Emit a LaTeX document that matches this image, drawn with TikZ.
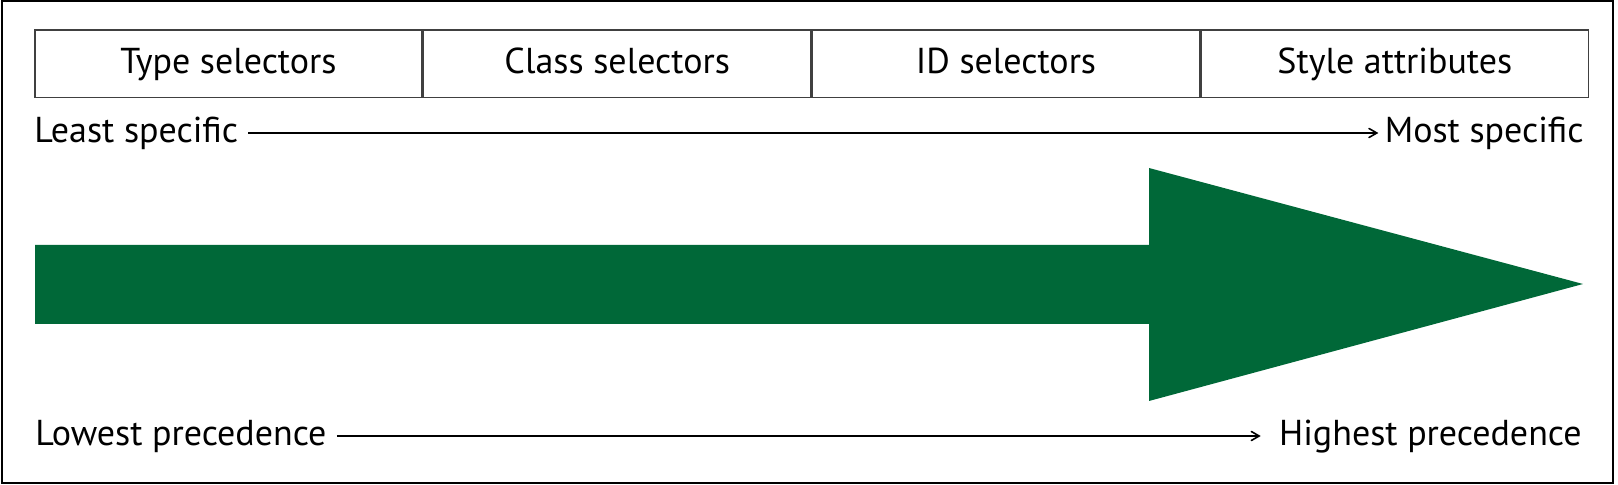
\documentclass[tikz,border=0pt]{standalone}
\usepackage{fontspec}
\setmainfont{PT Sans}
\usetikzlibrary{arrows, positioning}
\definecolor{precgreen}{RGB}{0,104,56}

\begin{document}
\begin{tikzpicture}[x=0.5pt, y=-0.5pt]
		\tikzstyle{SelectorName} = [rectangle, minimum width=193.6pt, minimum height=33.9pt, text centered, text height=12.8pt, text depth=3pt, draw=black!75, line width=0.8pt, inner sep=0pt, font=\fontsize{18}{21}\selectfont]
		\tikzstyle{LabelName} = [inner sep=0pt, text height=10pt, text depth=0pt, font=\fontsize{18}{21}\selectfont]
		\tikzstyle{arrow} = [line width=0.8pt,->,>=angle 60, shorten <=5pt]
		\tikzstyle{BigArrow} = [fill=precgreen]
		
		% frame
		\useasboundingbox (0,0) rectangle (1618,485);
		\draw[line width=1pt] (1.5,1.5) rectangle (1613,483.5);
		
		\node (typeSel) [SelectorName, anchor=north west] at (34,29) {Type selectors};
		\node (classSel) [SelectorName, right = 0 mm of typeSel] {Class selectors};
		\node (idSel) [SelectorName, right = 0 mm of classSel] {ID selectors};
		\node (styleAttr) [SelectorName, right = 0 mm of idSel] {Style attributes};
		
		\node (leastSpec) [LabelName, anchor=base west] at (34,143) {Least specific};
		\node (mostSpec) [LabelName, anchor=base east] at (1584,143) {Most specific};
		
		\fill[BigArrow] (35,245) -- (1149,245) -- (1149,168) -- (1583,284) -- (1149,401) -- (1149,324) -- (35,324) -- cycle;
		
		\node (lowPrec) [LabelName, anchor=base west] at (35,446) {Lowest precedence};
		\node (highPrec) [LabelName, anchor=base east] at (1582,446) {Highest precedence};
		
		\draw[arrow, shorten >=3pt] (leastSpec) -- (mostSpec);
		\draw[arrow, shorten >=9pt] (lowPrec) -- (highPrec);
		\end{tikzpicture}
\end{document}
